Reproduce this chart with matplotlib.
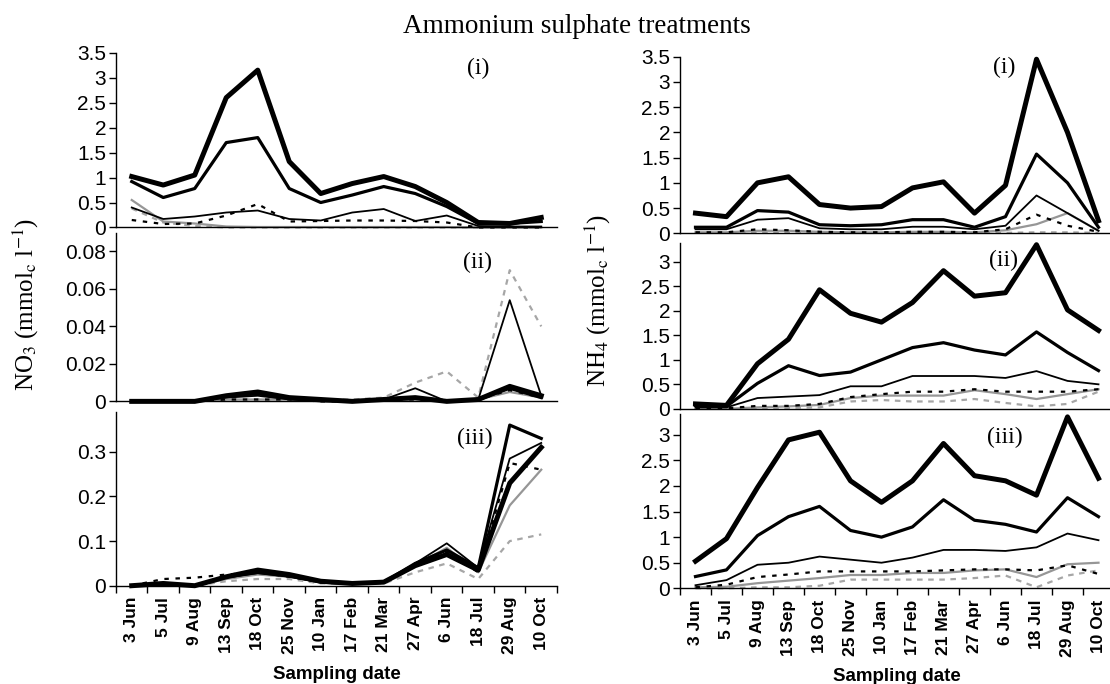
import matplotlib
matplotlib.use("Agg")
import matplotlib.pyplot as plt
from matplotlib.ticker import FixedLocator, FuncFormatter

plt.rcParams['font.family'] = ['Liberation Sans', 'DejaVu Sans']
plt.rcParams['mathtext.fontset'] = 'stix'

# Sampling dates (x categories)
dates = ["3 Jun", "5 Jul", "9 Aug", "13 Sep", "18 Oct", "25 Nov", "10 Jan",
         "17 Feb", "21 Mar", "27 Apr", "6 Jun", "18 Jul", "29 Aug", "10 Oct"]

# NO3 panels (left) - series order: thick, medium, thin, black dotted, grey solid, grey dashed
no3_i_thick = [1.02, 0.85, 1.05, 2.6, 3.15, 1.32, 0.68, 0.88, 1.02, 0.82, 0.5, 0.1, 0.08, 0.2]
no3_i_med = [0.92, 0.6, 0.78, 1.7, 1.8, 0.78, 0.5, 0.65, 0.82, 0.68, 0.42, 0.08, 0.08, 0.12]
no3_i_thin = [0.4, 0.17, 0.22, 0.3, 0.34, 0.17, 0.14, 0.3, 0.37, 0.13, 0.24, 0.03, 0.02, 0.02]
no3_i_dot = [0.15, 0.07, 0.08, 0.24, 0.47, 0.12, 0.13, 0.14, 0.14, 0.13, 0.1, 0.0, 0.0, 0.0]
no3_i_grey = [0.55, 0.12, 0.08, 0.02, 0.01, 0.01, 0.01, 0.01, 0.01, 0.01, 0.01, 0.0, 0.0, 0.0]
no3_i_greydash = [0.38, 0.1, 0.03, 0.0, 0.0, 0.0, 0.0, 0.0, 0.0, 0.0, 0.0, 0.0, 0.0, 0.0]

no3_ii_thick = [0.0, 0.0, 0.0, 0.003, 0.005, 0.002, 0.001, 0.0, 0.001, 0.002, 0.0, 0.001, 0.008, 0.003]
no3_ii_med = [0.0, 0.0, 0.0, 0.003, 0.004, 0.002, 0.001, 0.0, 0.001, 0.002, 0.0, 0.001, 0.007, 0.002]
no3_ii_thin = [0.0, 0.0, 0.0, 0.002, 0.003, 0.001, 0.0, 0.0, 0.001, 0.007, 0.0, 0.001, 0.054, 0.003]
no3_ii_dot = [0.0, 0.0, 0.0, 0.001, 0.001, 0.001, 0.0, 0.0, 0.001, 0.001, 0.0, 0.001, 0.006, 0.002]
no3_ii_grey = [0.0, 0.0, 0.0, 0.001, 0.001, 0.001, 0.0, 0.0, 0.001, 0.001, 0.0, 0.001, 0.005, 0.002]
no3_ii_greydash = [0.0, 0.0, 0.0, 0.001, 0.001, 0.001, 0.001, 0.001, 0.002, 0.01, 0.016, 0.002, 0.07, 0.04]

no3_iii_thick = [0.0, 0.005, 0.0, 0.02, 0.035, 0.025, 0.01, 0.005, 0.008, 0.045, 0.07, 0.035, 0.23, 0.31]
no3_iii_med = [0.0, 0.005, 0.0, 0.02, 0.03, 0.022, 0.008, 0.005, 0.008, 0.05, 0.08, 0.04, 0.36, 0.33]
no3_iii_thin = [0.0, 0.005, 0.0, 0.018, 0.028, 0.02, 0.008, 0.005, 0.008, 0.05, 0.095, 0.04, 0.285, 0.32]
no3_iii_dot = [0.0, 0.015, 0.018, 0.025, 0.03, 0.02, 0.008, 0.005, 0.008, 0.05, 0.075, 0.03, 0.275, 0.26]
no3_iii_grey = [0.0, 0.005, 0.0, 0.015, 0.025, 0.02, 0.008, 0.005, 0.008, 0.045, 0.085, 0.03, 0.18, 0.26]
no3_iii_greydash = [0.0, 0.005, 0.0, 0.01, 0.015, 0.015, 0.005, 0.005, 0.005, 0.03, 0.05, 0.015, 0.1, 0.115]

# NH4 panels (right)
nh4_i_thick = [0.4, 0.33, 1.0, 1.12, 0.57, 0.5, 0.53, 0.9, 1.02, 0.4, 0.95, 3.45, 2.0, 0.25]
nh4_i_med = [0.12, 0.12, 0.45, 0.42, 0.17, 0.15, 0.17, 0.27, 0.27, 0.12, 0.33, 1.57, 1.0, 0.12]
nh4_i_thin = [0.08, 0.08, 0.27, 0.3, 0.1, 0.08, 0.08, 0.13, 0.13, 0.08, 0.15, 0.75, 0.4, 0.05]
nh4_i_dot = [0.02, 0.02, 0.08, 0.06, 0.03, 0.02, 0.02, 0.03, 0.03, 0.02, 0.08, 0.37, 0.15, 0.03]
nh4_i_grey = [0.02, 0.02, 0.05, 0.05, 0.03, 0.02, 0.02, 0.03, 0.03, 0.02, 0.06, 0.18, 0.4, 0.05]
nh4_i_greydash = [0.01, 0.01, 0.01, 0.01, 0.01, 0.01, 0.01, 0.01, 0.01, 0.01, 0.01, 0.02, 0.02, 0.01]

nh4_ii_thick = [0.1, 0.07, 0.92, 1.42, 2.43, 1.95, 1.77, 2.17, 2.82, 2.3, 2.37, 3.35, 2.02, 1.6]
nh4_ii_med = [0.07, 0.05, 0.52, 0.88, 0.68, 0.75, 1.0, 1.25, 1.35, 1.2, 1.1, 1.57, 1.15, 0.78]
nh4_ii_thin = [0.03, 0.03, 0.22, 0.25, 0.28, 0.46, 0.46, 0.67, 0.67, 0.67, 0.63, 0.77, 0.57, 0.5]
nh4_ii_dot = [0.01, 0.01, 0.06, 0.06, 0.1, 0.24, 0.3, 0.35, 0.35, 0.4, 0.35, 0.35, 0.35, 0.4]
nh4_ii_grey = [0.0, 0.0, 0.03, 0.05, 0.08, 0.22, 0.27, 0.27, 0.27, 0.38, 0.3, 0.2, 0.3, 0.4]
nh4_ii_greydash = [0.0, 0.0, 0.02, 0.02, 0.03, 0.15, 0.18, 0.15, 0.15, 0.2, 0.12, 0.05, 0.1, 0.35]

nh4_iii_thick = [0.53, 0.97, 1.97, 2.9, 3.05, 2.1, 1.68, 2.1, 2.83, 2.2, 2.1, 1.82, 3.35, 2.15]
nh4_iii_med = [0.23, 0.36, 1.03, 1.4, 1.6, 1.13, 1.0, 1.2, 1.73, 1.33, 1.25, 1.1, 1.77, 1.4]
nh4_iii_thin = [0.06, 0.16, 0.46, 0.5, 0.62, 0.56, 0.5, 0.6, 0.75, 0.75, 0.73, 0.8, 1.07, 0.94]
nh4_iii_dot = [0.02, 0.07, 0.22, 0.27, 0.33, 0.33, 0.33, 0.33, 0.35, 0.37, 0.37, 0.35, 0.45, 0.28]
nh4_iii_grey = [0.02, 0.03, 0.1, 0.15, 0.2, 0.26, 0.26, 0.3, 0.3, 0.35, 0.37, 0.22, 0.47, 0.5]
nh4_iii_greydash = [0.0, 0.0, 0.02, 0.02, 0.05, 0.17, 0.17, 0.17, 0.17, 0.2, 0.25, 0.02, 0.25, 0.35]

# line styles for the six treatments (drawn back to front)
styles = [
    dict(color='#a6a6a6', lw=1.6, ls=(0, (2.5, 2.5))),   # grey dashed
    dict(color='#969696', lw=1.6, ls='-'),               # grey solid
    dict(color='black', lw=1.6, ls=(0, (2, 3))),         # black dotted
    dict(color='black', lw=1.3, ls='-'),                 # thin
    dict(color='black', lw=2.3, ls='-'),                 # medium
    dict(color='black', lw=3.6, ls='-'),                 # thick
]


def fmt(v, pos):
    return f"{v:g}"


def draw_panel(ax, series, ymax, yticks, label, label_xy, bottom=False):
    x = list(range(len(dates)))
    for s, st in zip(series, styles):
        ax.plot(x, s, solid_joinstyle='round', dash_capstyle='butt', clip_on=False, **st)
    ax.set_xlim(-0.5, len(dates) - 0.5)
    ax.set_ylim(0, ymax)
    ax.yaxis.set_major_locator(FixedLocator(yticks))
    ax.yaxis.set_major_formatter(FuncFormatter(fmt))
    ax.tick_params(axis='y', direction='out', length=5, width=1, labelsize=15, pad=2)
    for side in ['top', 'right']:
        ax.spines[side].set_visible(False)
    ax.spines['left'].set_linewidth(1)
    ax.spines['bottom'].set_linewidth(1)
    if bottom:
        ax.xaxis.set_major_locator(FixedLocator([i - 0.5 for i in range(len(dates) + 1)]))
        ax.xaxis.set_minor_locator(FixedLocator(x))
        ax.set_xticklabels([], minor=False)
        ax.set_xticklabels(dates, minor=True, rotation=90, fontweight='bold', fontsize=12.5)
        ax.tick_params(axis='x', which='major', direction='out', length=5, width=1)
        ax.tick_params(axis='x', which='minor', length=0, pad=8)
        ax.set_xlabel("Sampling date", fontweight='bold', fontsize=13.5, labelpad=8)
    else:
        ax.set_xticks([])
    ax.text(label_xy[0], label_xy[1], label, transform=ax.figure.transFigure,
            family='Liberation Serif', fontsize=17, ha='center', va='center')


fig = plt.figure(figsize=(11.1, 6.84), dpi=100)

# left column: NO3
ax1 = fig.add_axes([0.1045, 0.6674, 0.3973, 0.2556])
ax2 = fig.add_axes([0.1045, 0.4132, 0.3973, 0.2466])
ax3 = fig.add_axes([0.1045, 0.1437, 0.3973, 0.2544])
# right column: NH4 (runs past the right edge like the original)
ax4 = fig.add_axes([0.6126, 0.6589, 0.391, 0.2582])
ax5 = fig.add_axes([0.6126, 0.4023, 0.391, 0.2428])
ax6 = fig.add_axes([0.6126, 0.1399, 0.391, 0.2544])

draw_panel(ax1, [no3_i_greydash, no3_i_grey, no3_i_dot, no3_i_thin, no3_i_med, no3_i_thick],
           3.5, [0, 0.5, 1, 1.5, 2, 2.5, 3, 3.5], "(i)", (478 / 1110, 1 - 68 / 684))
draw_panel(ax2, [no3_ii_greydash, no3_ii_grey, no3_ii_dot, no3_ii_thin, no3_ii_med, no3_ii_thick],
           0.09, [0, 0.02, 0.04, 0.06, 0.08], "(ii)", (477 / 1110, 1 - 262 / 684))
draw_panel(ax3, [no3_iii_greydash, no3_iii_grey, no3_iii_dot, no3_iii_thin, no3_iii_med, no3_iii_thick],
           0.39, [0, 0.1, 0.2, 0.3], "(iii)", (475 / 1110, 1 - 438 / 684), bottom=True)

draw_panel(ax4, [nh4_i_greydash, nh4_i_grey, nh4_i_dot, nh4_i_thin, nh4_i_med, nh4_i_thick],
           3.5, [0, 0.5, 1, 1.5, 2, 2.5, 3, 3.5], "(i)", (1004 / 1110, 1 - 67 / 684))
draw_panel(ax5, [nh4_ii_greydash, nh4_ii_grey, nh4_ii_dot, nh4_ii_thin, nh4_ii_med, nh4_ii_thick],
           3.39, [0, 0.5, 1, 1.5, 2, 2.5, 3], "(ii)", (1004 / 1110, 1 - 260 / 684))
draw_panel(ax6, [nh4_iii_greydash, nh4_iii_grey, nh4_iii_dot, nh4_iii_thin, nh4_iii_med, nh4_iii_thick],
           3.4, [0, 0.5, 1, 1.5, 2, 2.5, 3], "(iii)", (1005 / 1110, 1 - 437 / 684), bottom=True)

# title and y labels
fig.text(577 / 1110, 1 - 33 / 684, "Ammonium sulphate treatments", family='Liberation Serif',
         fontsize=19.5, ha='center', va='baseline')
fig.text(26 / 1110, 1 - 304 / 684, r"NO$_3$ (mmol$_\mathrm{c}$ l$^{\mathrm{-1}}$)",
         family='Liberation Serif', fontsize=18, rotation=90, ha='center', va='center')
fig.text(598 / 1110, 1 - 300 / 684, r"NH$_4$ (mmol$_\mathrm{c}$ l$^{\mathrm{-1}}$)",
         family='Liberation Serif', fontsize=18, rotation=90, ha='center', va='center')

fig.savefig("out.png", dpi=100)
